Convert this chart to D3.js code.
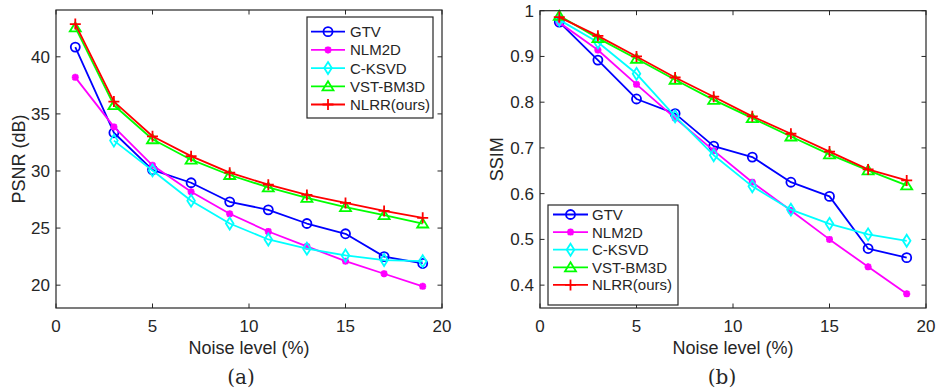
<!DOCTYPE html>
<html><head><meta charset="utf-8">
<script src="https://cdn.jsdelivr.net/npm/d3@7"></script>
<style>body{margin:0;background:#fff}svg{display:block}</style>
</head><body><svg id="c" width="938" height="392"></svg>
<script>
const noise = [1,3,5,7,9,11,13,15,17,19];
const seriesNames = ["GTV","NLM2D","C-KSVD","VST-BM3D","NLRR(ours)"];
const seriesColors = ["#0000ff","#ff00ff","#00ffff","#00ff00","#ff0000"];
const seriesMarkers = ["circle","asterisk","diamond","triangle","plus"];

const psnrGTV  = [40.85,33.35,30.1,28.97,27.3,26.6,25.4,24.5,22.5,21.9];
const psnrNLM  = [38.2,33.86,30.5,28.18,26.25,24.7,23.4,22.1,21.0,19.9];
const psnrKSVD = [null,32.66,30.05,27.4,25.4,24.0,23.2,22.6,22.2,22.1];
const psnrBM3D = [42.57,35.76,32.78,30.99,29.65,28.56,27.65,26.84,26.14,25.4];
const psnrNLRR = [42.87,36.08,33.04,31.3,29.85,28.8,27.9,27.2,26.5,25.9];

const ssimGTV  = [0.975,0.892,0.807,0.775,0.704,0.68,0.625,0.594,0.48,0.46];
const ssimNLM  = [0.974,0.914,0.839,0.765,0.694,0.625,0.563,0.50,0.44,0.381];
const ssimKSVD = [0.98,0.931,0.862,0.769,0.684,0.616,0.565,0.534,0.511,0.497];
const ssimBM3D = [0.989,0.94,0.895,0.849,0.805,0.765,0.725,0.686,0.651,0.618];
const ssimNLRR = [0.986,0.945,0.9,0.854,0.812,0.769,0.731,0.692,0.653,0.629];

const xTicks = [0,5,10,15,20];
const psnrTicks = [20,25,30,35,40];
const ssimTicks = [0.4,0.5,0.6,0.7,0.8,0.9,1];

const svg = d3.select("#c");
const FONT = "'Liberation Sans', Arial, sans-serif";
const TXT = "#262626";

function markerPath(type){
  switch(type){
    case "circle": return d3.symbol(d3.symbolCircle, 64)();
    case "diamond": return "M0,-6L3.8,0L0,6L-3.8,0Z";
    case "triangle": return "M0,-5L5.5,4L-5.5,4Z";
    case "plus": return "M-5.5,0H5.5M0,-5.5V5.5";
    case "asterisk": return "M-3.5,0H3.5M0,-3.5V3.5M-2.6,-2.6L2.6,2.6M-2.6,2.6L2.6,-2.6";
  }
}

function drawPanel(opt){
  const {left,right,top,bottom,yDomain,yTicks,yFmt,series,yLabel,yLabelX,caption,captionX,legend} = opt;
  const x = d3.scaleLinear().domain([0,20]).range([left,right]);
  const y = d3.scaleLinear().domain(yDomain).range([bottom,top]);
  const g = svg.append("g");

  const tl = 4.5;
  const tk = g.append("g").attr("stroke","#262626").attr("stroke-width",1);
  xTicks.forEach(t=>{
    tk.append("line").attr("x1",x(t)).attr("x2",x(t)).attr("y1",bottom).attr("y2",bottom-tl);
    tk.append("line").attr("x1",x(t)).attr("x2",x(t)).attr("y1",top).attr("y2",top+tl);
  });
  yTicks.forEach(t=>{
    tk.append("line").attr("x1",left).attr("x2",left+tl).attr("y1",y(t)).attr("y2",y(t));
    tk.append("line").attr("x1",right).attr("x2",right-tl).attr("y1",y(t)).attr("y2",y(t));
  });

  xTicks.forEach(t=>{
    g.append("text").attr("x",x(t)).attr("y",bottom+24).attr("text-anchor","middle")
      .attr("font-family",FONT).attr("font-size",17).attr("fill",TXT).text(t);
  });
  yTicks.forEach(t=>{
    g.append("text").attr("x",left-6).attr("y",y(t)+6).attr("text-anchor","end")
      .attr("font-family",FONT).attr("font-size",17).attr("fill",TXT).text(yFmt(t));
  });

  g.append("text").attr("x",(left+right)/2).attr("y",bottom+46).attr("text-anchor","middle")
    .attr("font-family",FONT).attr("font-size",18).attr("fill",TXT).text("Noise level (%)");
  g.append("text").attr("transform",`translate(${yLabelX},${(top+bottom)/2}) rotate(-90)`)
    .attr("text-anchor","middle").attr("font-family",FONT).attr("font-size",18).attr("fill",TXT).text(yLabel);
  g.append("text").attr("x",captionX).attr("y",384).attr("text-anchor","middle")
    .attr("font-family","'DejaVu Serif', 'Liberation Serif', serif").attr("font-size",20).attr("fill",TXT).text(caption);

  const line = d3.line().defined(d=>d[1]!=null).x(d=>x(d[0])).y(d=>y(d[1]));
  series.forEach((vals,i)=>{
    const pts = noise.map((n,j)=>[n,vals[j]]);
    g.append("path").attr("d",line(pts)).attr("fill","none").attr("stroke",seriesColors[i])
      .attr("stroke-width",1.8).attr("stroke-linejoin","round");
    const mp = markerPath(seriesMarkers[i]);
    pts.filter(d=>d[1]!=null).forEach(d=>{
      g.append("path").attr("d",mp).attr("transform",`translate(${x(d[0])},${y(d[1])})`)
        .attr("fill", seriesMarkers[i]==="asterisk" ? seriesColors[i] : "none")
        .attr("stroke",seriesColors[i]).attr("stroke-width", seriesMarkers[i]==="asterisk"?2.2:1.8);
    });
  });

  g.append("rect").attr("x",left).attr("y",top).attr("width",right-left).attr("height",bottom-top)
    .attr("fill","none").attr("stroke","#262626").attr("stroke-width",1.2);

  const L = legend;
  const lg = g.append("g");
  lg.append("rect").attr("x",L.x).attr("y",L.y).attr("width",L.w).attr("height",L.h)
    .attr("fill","#fff").attr("stroke","#262626").attr("stroke-width",1.2);
  seriesNames.forEach((name,i)=>{
    const yy = L.y0 + i*L.dy;
    lg.append("line").attr("x1",L.lx1).attr("x2",L.lx2).attr("y1",yy).attr("y2",yy)
      .attr("stroke",seriesColors[i]).attr("stroke-width",1.8);
    lg.append("path").attr("d",markerPath(seriesMarkers[i]))
      .attr("transform",`translate(${(L.lx1+L.lx2)/2},${yy})`)
      .attr("fill", seriesMarkers[i]==="asterisk" ? seriesColors[i] : "none")
      .attr("stroke",seriesColors[i]).attr("stroke-width", seriesMarkers[i]==="asterisk"?2.2:1.8);
    lg.append("text").attr("x",L.tx).attr("y",yy+5.5).attr("font-family",FONT).attr("font-size",15)
      .attr("fill",TXT).text(name);
  });
}

drawPanel({
  left:56,right:442,top:10,bottom:308,yDomain:[18,44.1],yTicks:psnrTicks,yFmt:d=>d,
  series:[psnrGTV,psnrNLM,psnrKSVD,psnrBM3D,psnrNLRR],
  yLabel:"PSNR (dB)",yLabelX:25,caption:"(a)",captionX:241,
  legend:{x:307,y:17,w:126,h:101,y0:31.7,dy:18.2,lx1:311,lx2:345,tx:350}
});
drawPanel({
  left:540,right:926,top:10.7,bottom:308,yDomain:[0.35,1],yTicks:ssimTicks,yFmt:d=>d===1?"1":d.toFixed(1),
  series:[ssimGTV,ssimNLM,ssimKSVD,ssimBM3D,ssimNLRR],
  yLabel:"SSIM",yLabelX:503,caption:"(b)",captionX:722,
  legend:{x:548,y:205,w:130,h:100,y0:214.5,dy:17.6,lx1:553,lx2:588,tx:592}
});
</script></body></html>
